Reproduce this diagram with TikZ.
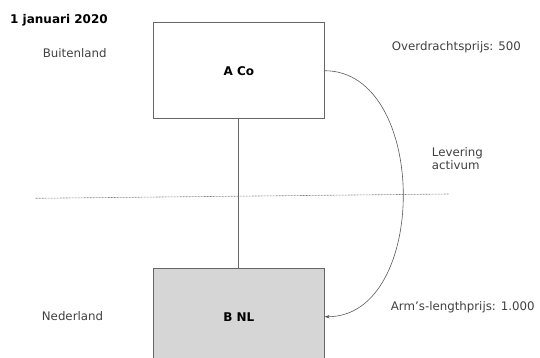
\documentclass[tikz,border=0pt]{standalone}
\usepackage{fontspec}
\setmainfont{DejaVu Sans}
\usetikzlibrary{arrows.meta,positioning}
\tikzset{
    entity/.style={draw=black!60, line width=0.7pt, minimum width=171pt, minimum height=96pt, inner sep=0pt, font=\bfseries\fontsize{12}{14}\selectfont},
    lbl/.style={text=black!75, font=\fontsize{11.8}{13.4}\selectfont, inner sep=0pt}
}
\begin{document}
\begin{tikzpicture}[x=1pt, y=-1pt]
                                \useasboundingbox (0, 0) rectangle (540, 358);
                                \node[entity] (aco) at (238.8, 70.7) {A Co};
                                \node[entity, fill=black!16] (bnl) at (238.8, 316.7) {B NL};
                                \node[font=\bfseries\fontsize{12}{14}\selectfont, inner sep=0pt, anchor=west] (datum) at (10, 20) {1 januari 2020};
                                \node[lbl] (buiten) at (74.7, 53.3) {Buitenland};
                                \node[lbl] (neder) at (72.5, 315.7) {Nederland};
                                \node[lbl, anchor=west] (overprijs) at (391.7, 47.7) {Overdrachtsprijs: 500};
                                \node[lbl, anchor=west, align=left] (levering) at (431.7, 158.4) {Levering\\activum};
                                \node[lbl, anchor=west] (armprijs) at (390.7, 307) {Arm’s-lengthprijs: 1.000};
                                \coordinate (gl) at (35.7, 198.3);
                                \coordinate (gr) at (449, 194);
                                \draw[black!50, line width=0.6pt, dash pattern=on 2pt off 1pt] (gl) -- (gr);
                                \draw[black!60, line width=0.7pt] (aco) -- (bnl);
                                \draw[black!65, line width=0.6pt, -{Stealth[length=5pt, width=3.5pt]}]
                                (aco.east) .. controls (429, 71) and (429, 317) .. (bnl.east);
                            \end{tikzpicture}
\end{document}
